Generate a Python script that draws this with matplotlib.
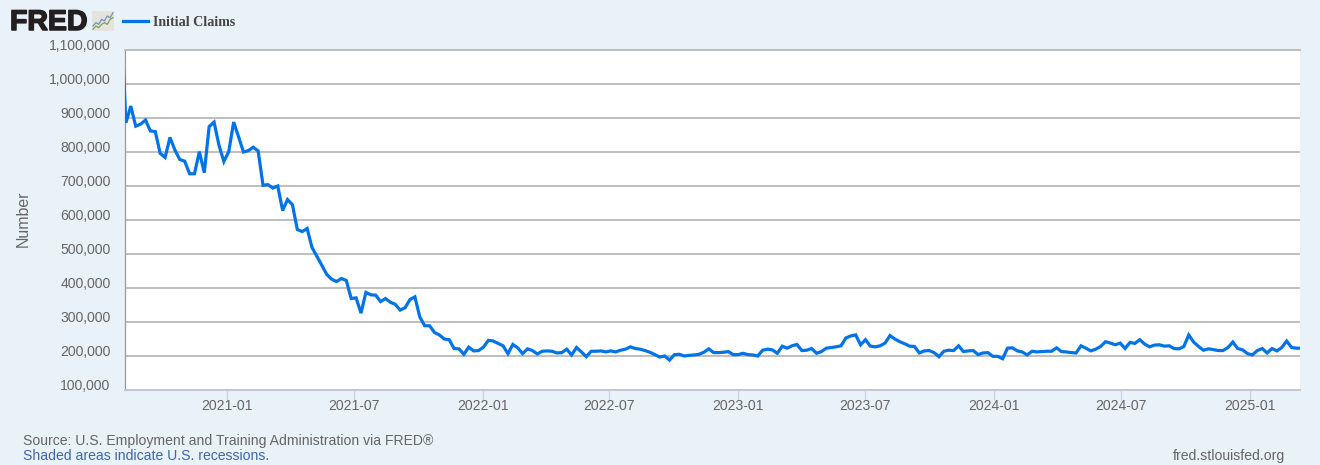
import pandas as pd
import matplotlib
matplotlib.use("Agg")
import matplotlib.pyplot as plt
import matplotlib.dates as mdates
import matplotlib.patheffects as pe
from matplotlib.ticker import FuncFormatter
from matplotlib.transforms import ScaledTranslation

# weekly initial claims, in thousands
claims_k = [1200,
    886, 935, 876, 882, 894, 862, 860, 796, 784, 843,
    806, 778, 773, 736, 736, 801, 739, 875, 888, 820,
    772, 801, 888, 845, 800, 804, 814, 803, 702, 704,
    694, 700, 628, 660, 645, 572, 566, 575, 519, 493,
    467, 440, 426, 419, 428, 422, 369, 371, 326, 387,
    380, 379, 360, 369, 358, 352, 335, 342, 366, 374,
    315, 289, 289, 269, 262, 250, 248, 222, 221, 205,
    226, 215, 216, 226, 246, 244, 237, 230, 207, 234,
    224, 207, 221, 216, 206, 214, 215, 214, 209, 210,
    220, 203, 225, 212, 198, 214, 214, 215, 212, 215,
    212, 217, 220, 227, 222, 220, 216, 211, 204, 197,
    200, 188, 204, 205, 200, 202, 203, 205, 211, 221,
    210, 210, 211, 213, 204, 204, 208, 204, 203, 200,
    217, 220, 218, 208, 229, 223, 230, 234, 216, 217,
    222, 208, 213, 223, 225, 227, 230, 253, 259, 262,
    233, 248, 229, 227, 230, 238, 260, 250, 242, 236,
    229, 228, 209, 215, 216, 210, 198, 214, 217, 216,
    230, 213, 215, 216, 204, 209, 210, 199, 199, 192,
    223, 224, 215, 212, 203, 214, 212, 213, 214, 214,
    224, 213, 212, 210, 209, 230, 223, 215, 220, 228,
    242, 238, 233, 238, 222, 240, 237, 248, 235, 227,
    232, 233, 229, 230, 222, 221, 228, 262, 241, 228,
    217, 221, 219, 216, 216, 225, 241, 222, 218, 207,
    203, 216, 222, 209, 222, 215, 225, 244, 225, 223, 223]
first_week = "2020-08-02"

y_ticks = [100000, 200000, 300000, 400000, 500000, 600000,
           700000, 800000, 900000, 1000000, 1100000]
x_ticks = ["2021-01", "2021-07", "2022-01", "2022-07", "2023-01", "2023-07",
           "2024-01", "2024-07", "2025-01"]
x_start = "2020-08-07"
x_end = "2025-03-14"

# little chart in the logo
icon_blue = [3, 5, 4, 7, 6, 9, 8, 11]
icon_green = [1, 3, 2, 4, 5, 4, 7, 8]

series_name = "Initial Claims"
source_text = "Source: U.S. Employment and Training Administration via FRED®"
shaded_text = "Shaded areas indicate U.S. recessions."
site_text = "fred.stlouisfed.org"

W, H = 1320, 465
BG = "#e9f1f9"
LINE = "#0073e6"
GRID = "#c0c0c0"
TEXT = "#666666"
plt.rcParams["font.family"] = ["Liberation Sans", "DejaVu Sans"]

dates = pd.date_range(first_week, periods=len(claims_k), freq="7D")
values = [v * 1000 for v in claims_k]

fig = plt.figure(figsize=(W / 100, H / 100), dpi=100, facecolor=BG)
ax = fig.add_axes([124.5 / W, 1 - 390 / H, (1300 - 124.5) / W, 340 / H])
ax.set_facecolor("white")

ax.plot(dates, values, color=LINE, lw=2.3, solid_joinstyle="miter", zorder=3)

ax.set_xlim(pd.Timestamp(x_start), pd.Timestamp(x_end))
ax.set_ylim(100000, 1100000)

ax.set_yticks(y_ticks)
ax.yaxis.set_major_formatter(FuncFormatter(lambda v, p: f"{int(v):,}"))
ax.grid(axis="y", color=GRID, lw=1.45, zorder=1)
ax.tick_params(axis="y", length=0, pad=10, labelsize=10.1, labelcolor=TEXT)

# the value labels sit a little above their grid lines
lift = ScaledTranslation(0, 6 / 100, fig.dpi_scale_trans)
for lab in ax.get_yticklabels():
    lab.set_transform(lab.get_transform() + lift)

ax.set_xticks([pd.Timestamp(t + "-01") for t in x_ticks])
ax.xaxis.set_major_formatter(mdates.DateFormatter("%Y-%m"))
ax.tick_params(axis="x", length=7, width=0.9, color="#c6d4e8", pad=-0.5,
               labelsize=10.1, labelcolor=TEXT)

ax.spines["right"].set_visible(False)
ax.spines["left"].set_color("#999999")
ax.spines["left"].set_linewidth(0.9)
ax.spines["top"].set_color(GRID)
ax.spines["top"].set_linewidth(1.45)
ax.spines["bottom"].set_color("#c3c8d0")
ax.spines["bottom"].set_linewidth(1.45)

fig.text(23 / W, 1 - 219 / H, "Number", rotation=90, ha="center", va="center",
         fontsize=11.4, color=TEXT)

# header
logo = fig.text(10 / W, 1 - 20 / H, "FRED", ha="left", va="center_baseline", fontsize=20.5,
                fontweight="bold", color="#231f20")
logo.set_path_effects([pe.withStroke(linewidth=1.1, foreground="#231f20")])
icon = fig.add_axes([92 / W, 1 - 31 / H, 22 / W, 20 / H])
icon.set_facecolor("#e4e4dc")
icon.plot(icon_blue, color="#6f94b5", lw=0.9)
icon.plot(icon_green, color="#7fa060", lw=0.9)
icon.set_ylim(0, 12)
icon.set_xticks([])
icon.set_yticks([])
for side in icon.spines.values():
    side.set_visible(False)

fig.add_artist(plt.Line2D([123 / W, 148 / W], [1 - 21.5 / H, 1 - 21.5 / H],
                          color=LINE, lw=2.3))
fig.text(153 / W, 1 - 22.5 / H, series_name, ha="left", va="center", fontsize=10.1,
         fontweight="bold", family="Liberation Serif", color="#444444")

# footer
fig.text(23 / W, 1 - 440.5 / H, source_text, ha="left", va="center", fontsize=10.05,
         color=TEXT)
fig.text(23 / W, 1 - 455.5 / H, shaded_text, ha="left", va="center", fontsize=10.05,
         color="#3d68a8")
fig.text(1285 / W, 1 - 455.5 / H, site_text, ha="right", va="center", fontsize=10.05,
         color=TEXT)

fig.savefig("out.png", dpi=100, facecolor=BG)
